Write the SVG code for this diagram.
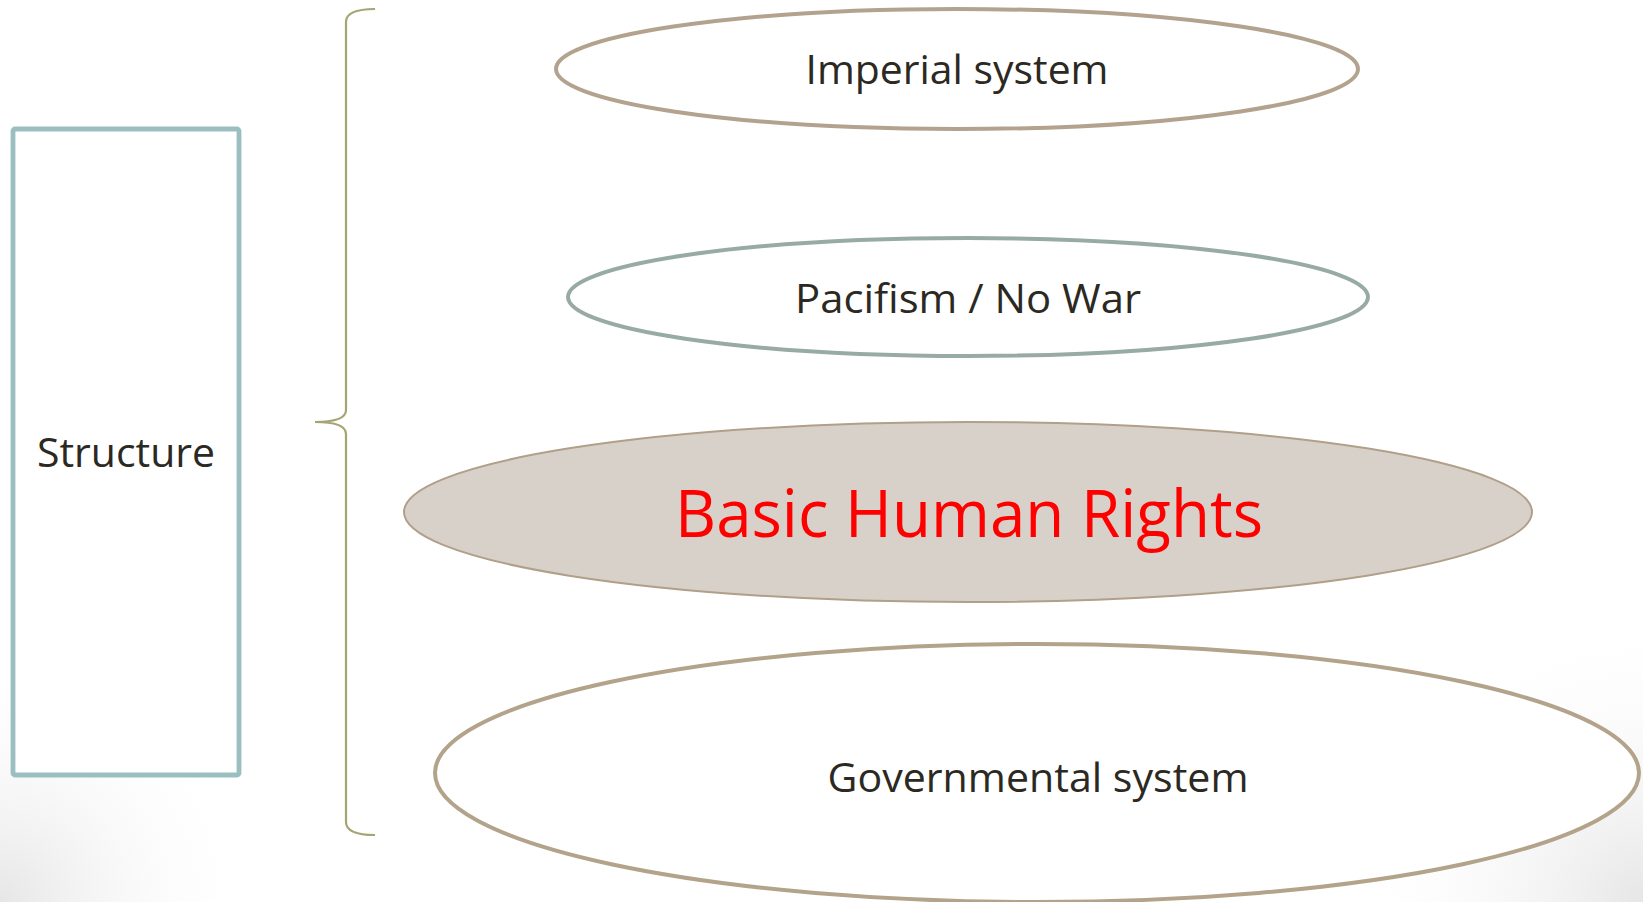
<svg xmlns="http://www.w3.org/2000/svg" width="1643" height="902" viewBox="0 0 1643 902">
<defs>
<radialGradient id="bl" cx="0" cy="902" r="260" gradientUnits="userSpaceOnUse">
<stop offset="0" stop-color="#e6e6e6"/>
<stop offset="1" stop-color="#ffffff" stop-opacity="0"/>
</radialGradient>
<radialGradient id="br" cx="1643" cy="902" r="300" gradientUnits="userSpaceOnUse">
<stop offset="0" stop-color="#e6e6e6"/>
<stop offset="1" stop-color="#ffffff" stop-opacity="0"/>
</radialGradient>
<style>
.lbl{font-family:"Open Sans","Noto Sans","DejaVu Sans",sans-serif;font-size:41px;fill:#2b2922;text-anchor:middle}
.ell{fill:#ffffff;stroke-width:4}
</style>
</defs>
<rect width="1643" height="902" fill="#ffffff"/>
<rect width="1643" height="902" fill="url(#bl)"/>
<rect width="1643" height="902" fill="url(#br)"/>

<g id="structure">
<rect x="13" y="129" width="226" height="646" rx="2" fill="#ffffff" stroke="#9bbfc0" stroke-width="4.8"/>
<text class="lbl" x="126" y="467" textLength="178" lengthAdjust="spacingAndGlyphs">Structure</text>
</g>

<g id="connectors">
<path d="M375,9 Q346,9 346,22 L346,410 Q346,422 315,422 Q346,422 346,434 L346,822 Q346,835 375,835" fill="none" stroke="#a5a474" stroke-width="2.2"/>
</g>

<g id="imperial">
<ellipse class="ell" cx="957" cy="69" rx="401" ry="60" stroke="#b3a38e"/>
<text class="lbl" x="957" y="84" textLength="303" lengthAdjust="spacingAndGlyphs">Imperial system</text>
</g>

<g id="pacifism">
<ellipse class="ell" cx="968" cy="297" rx="400" ry="59" stroke="#97aba4"/>
<text class="lbl" x="968" y="313" textLength="346" lengthAdjust="spacingAndGlyphs">Pacifism / No War</text>
</g>

<g id="rights">
<ellipse cx="968" cy="512" rx="564" ry="90" fill="#d8d1c9" stroke="#b09f89" stroke-width="2"/>
<text x="969" y="537" text-anchor="middle" font-family="Open Sans, Noto Sans, sans-serif" font-size="65" fill="#ff0000" textLength="588" lengthAdjust="spacingAndGlyphs">Basic Human Rights</text>
</g>

<g id="governmental">
<ellipse class="ell" cx="1037" cy="773" rx="602" ry="129" stroke="#b3a38b"/>
<text class="lbl" x="1038" y="792" textLength="421" lengthAdjust="spacingAndGlyphs">Governmental system</text>
</g>
</svg>
